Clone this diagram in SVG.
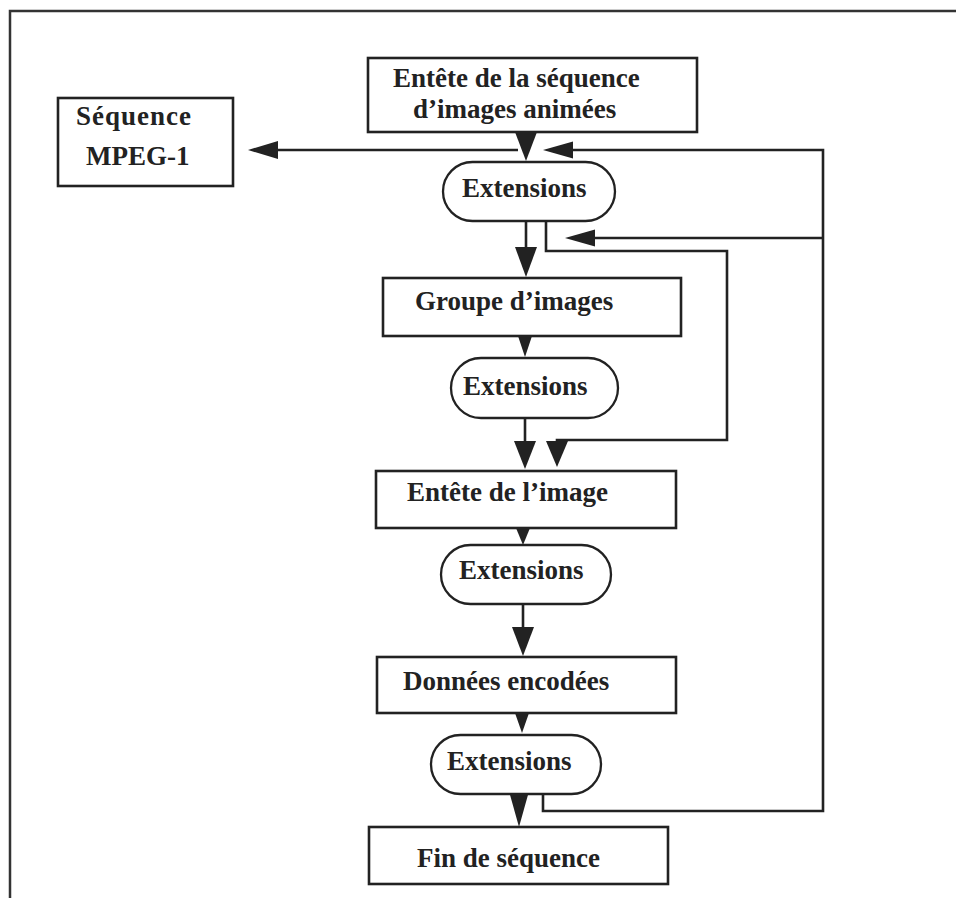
<svg xmlns="http://www.w3.org/2000/svg" width="956" height="898" viewBox="0 0 956 898">
  <style>
    .box { fill: #fff; stroke: #222; stroke-width: 2.6; }
    .pill { fill: #fff; stroke: #222; stroke-width: 2.3; }
    .lbl { font-family: "Liberation Serif", "Times New Roman", serif; font-weight: bold; font-size: 27px; fill: #222; }
    .wire { fill: none; stroke: #222; stroke-width: 2.6; }
    .head { fill: #222; stroke: none; }
    .frame { fill: none; stroke: #333; stroke-width: 2.5; }
  </style>

  <rect x="0" y="0" width="956" height="898" fill="#fff"/>
  <!-- page frame (top and left edges) -->
  <path class="frame" d="M10,898 V11 H956"/>

  <!-- nodes -->
  <g id="sequence-mpeg1">
    <rect class="box" x="58" y="98" width="175" height="88"/>
    <text class="lbl" x="76" y="125" textLength="115" lengthAdjust="spacing">Séquence</text>
    <text class="lbl" x="86" y="165">MPEG-1</text>
  </g>
  <g id="sequence-header">
    <rect class="box" x="368" y="58" width="329" height="74"/>
    <text class="lbl" x="393" y="87">Entête de la séquence</text>
    <text class="lbl" x="413" y="118">d’images animées</text>
  </g>
  <g id="ext-1">
    <rect class="pill" x="443" y="162" width="172" height="59" rx="29.5" ry="29.5"/>
    <text class="lbl" x="462" y="197">Extensions</text>
  </g>
  <g id="group-of-pictures">
    <rect class="box" x="383" y="278" width="298" height="58"/>
    <text class="lbl" x="415" y="310">Groupe d’images</text>
  </g>
  <g id="ext-2">
    <rect class="pill" x="451" y="358" width="167" height="60" rx="30" ry="30"/>
    <text class="lbl" x="463" y="395">Extensions</text>
  </g>
  <g id="picture-header">
    <rect class="box" x="376" y="471" width="300" height="57"/>
    <text class="lbl" x="407" y="501">Entête de l’image</text>
  </g>
  <g id="ext-3">
    <rect class="pill" x="441" y="545" width="170" height="59" rx="29.5" ry="29.5"/>
    <text class="lbl" x="459" y="579">Extensions</text>
  </g>
  <g id="coded-data">
    <rect class="box" x="377" y="657" width="299" height="56"/>
    <text class="lbl" x="403" y="690">Données encodées</text>
  </g>
  <g id="ext-4">
    <rect class="pill" x="431" y="735" width="170" height="59" rx="29.5" ry="29.5"/>
    <text class="lbl" x="447" y="770">Extensions</text>
  </g>
  <g id="sequence-end">
    <rect class="box" x="369" y="827" width="299" height="57"/>
    <text class="lbl" x="417" y="867">Fin de séquence</text>
  </g>

  <!-- connectors -->
  <g id="connectors">
    <!-- output to MPEG-1 sequence -->
    <line class="wire" x1="518" y1="150" x2="276" y2="150"/>
    <polygon class="head" points="248,150 278,141 278,159"/>

    <!-- loop back from the last extensions -->
    <path class="wire" d="M543,794 V811 H823 V150 H571"/>
    <polygon class="head" points="543,150 573,141.5 573,158.5"/>
    <line class="wire" x1="823" y1="238" x2="593" y2="238"/>
    <polygon class="head" points="565,238 595,229.5 595,246.5"/>

    <!-- skip from first extensions to picture header -->
    <path class="wire" d="M546,221 V251 H727 V440 H557 V443"/>
    <polygon class="head" points="546,441 568,441 557,467"/>

    <!-- main vertical flow -->
    <polygon class="head" points="515,132 537,132 526,161"/>
    <line class="wire" x1="526" y1="221" x2="526" y2="249"/>
    <polygon class="head" points="515,247 537,247 526,277"/>

    <polygon class="head" points="518,336 532,336 525,357"/>
    <line class="wire" x1="525" y1="418" x2="525" y2="443"/>
    <polygon class="head" points="514,441 536,441 525,469"/>

    <polygon class="head" points="516,528 530,528 523,545"/>
    <line class="wire" x1="523" y1="604" x2="523" y2="629"/>
    <polygon class="head" points="512,627 534,627 523,656"/>

    <polygon class="head" points="515,713 529,713 522,733"/>
    <polygon class="head" points="509.5,793 528.5,793 519,827"/>
  </g>
</svg>
